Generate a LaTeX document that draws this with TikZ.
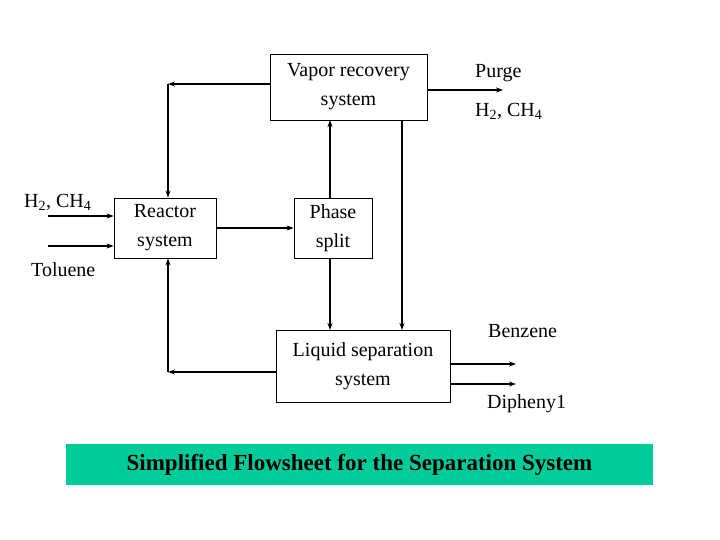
\documentclass[tikz,border=0pt]{standalone}
\usepackage{fontspec}
\setmainfont{Liberation Serif}
\usetikzlibrary{arrows.meta}
\begin{document}
\begin{tikzpicture}[x=1pt,y=-1pt,
  box/.style={draw,thick,inner sep=0pt,align=center,font=\fontsize{20}{29}\selectfont},
  lbl/.style={inner sep=0pt,anchor=west,font=\fontsize{20}{24}\selectfont},
  flow/.style={line width=1.6pt,-{Stealth[length=7pt,width=5pt]}}]
\useasboundingbox (0,0) rectangle (720,540);
\node[box,minimum width=157pt,minimum height=66pt] (vap) at (348.5,87) {Vapor recovery\\system};
\node[box,minimum width=102pt,minimum height=60pt] (rea) at (165,228) {Reactor\\system};
\node[box,minimum width=78pt,minimum height=60pt] (pha) at (333,228) {Phase\\split};
\node[box,minimum width=174pt,minimum height=72pt] (liq) at (363,366) {Liquid separation\\system};
\node[fill={rgb,255:red,0;green,204;blue,153},minimum width=587pt,minimum height=41pt,inner sep=0pt,font=\bfseries\fontsize{23}{26}\selectfont] (title) at (359.5,464.5) {Simplified Flowsheet for the Separation System};
\coordinate (c1) at (168,84);
\coordinate (c2) at (168,372);
\coordinate (h2in) at (48,216);
\coordinate (tolin) at (48,246);
\coordinate (purge) at (503,90);
\coordinate (benz) at (516,364);
\coordinate (diph) at (516,384);
\draw[flow] (vap.west |- c1) -- (c1);
\draw[flow] (c1) -- (c1 |- rea.north);
\draw[flow] (liq.west |- c2) -- (c2);
\draw[flow] (c2) -- (c2 |- rea.south);
\draw[flow] (rea.east) -- (pha.west);
\draw[flow] (330,198) -- (330,120);
\draw[flow] (330,258) -- (330,330);
\draw[flow] (402,120) -- (402,330);
\draw[flow] (h2in) -- (h2in -| rea.west);
\draw[flow] (tolin) -- (tolin -| rea.west);
\draw[flow] (vap.east |- purge) -- (purge);
\draw[flow] (liq.east |- benz) -- (benz);
\draw[flow] (liq.east |- diph) -- (diph);
\node[lbl] (l1) at (475,73) {Purge};
\node[lbl] (l2) at (475,111) {H\textsubscript{2}, CH\textsubscript{4}};
\node[lbl] (l3) at (24,202) {H\textsubscript{2}, CH\textsubscript{4}};
\node[lbl] (l4) at (31,270) {Toluene};
\node[lbl] (l5) at (488,331) {Benzene};
\node[lbl] (l6) at (487,404) {Dipheny1};
\end{tikzpicture}
\end{document}
